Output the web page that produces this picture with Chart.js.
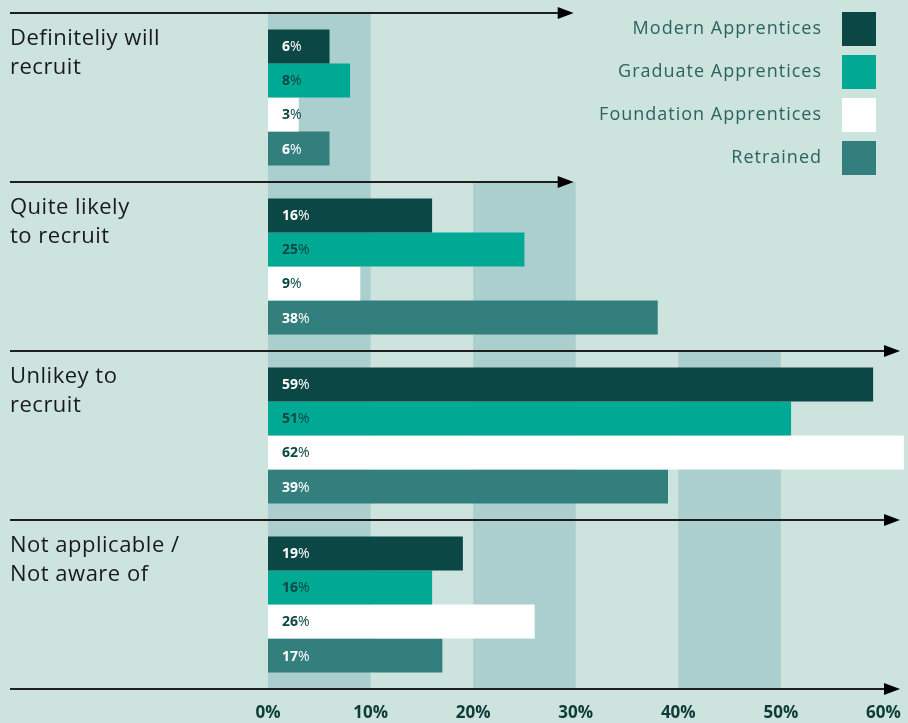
<!DOCTYPE html>
<html lang="en">
<head>
<meta charset="UTF-8">
<title>Recruitment intentions</title>
<script src="https://cdn.jsdelivr.net/npm/chart.js@4.4.1/dist/chart.umd.min.js"></script>
<style>
  body { margin: 0; background: #cde3dd; }
  #wrap { width: 908px; height: 723px; }
</style>
</head>
<body>
<div id="wrap"><canvas id="chart" width="908" height="723"></canvas></div>
<script>
// data
const categories = [
  ['Definiteliy will', 'recruit'],
  ['Quite likely', 'to recruit'],
  ['Unlikey to', 'recruit'],
  ['Not applicable /', 'Not aware of']
];
const seriesNames = ['Modern Apprentices', 'Graduate Apprentices', 'Foundation Apprentices', 'Retrained'];
const modern = [6, 16, 59, 19];
const graduate = [8, 25, 51, 16];
const foundation = [3, 9, 62, 26];
const retrained = [6, 38, 39, 17];
const xTicks = [0, 10, 20, 30, 40, 50, 60];
const bands = [[0, 10], [20, 30], [40, 50]];

const colors = ['#0b4745', '#00a994', '#ffffff', '#337f7d'];
const labelColors = ['#ffffff', '#0b4745', '#0b4745', '#ffffff'];
const FONT = "'Open Sans', sans-serif";

function boundaries(chart) {
  const y = chart.scales.y;
  const out = [chart.chartArea.top];
  for (let i = 0; i < categories.length - 1; i++) {
    out.push((y.getPixelForValue(i) + y.getPixelForValue(i + 1)) / 2);
  }
  out.push(chart.chartArea.bottom);
  return out;
}

function arrow(ctx, x0, x1, y) {
  ctx.save();
  ctx.strokeStyle = '#1e1e1e';
  ctx.fillStyle = '#000';
  ctx.lineWidth = 2;
  ctx.beginPath();
  ctx.moveTo(x0, y);
  ctx.lineTo(x1 - 12, y);
  ctx.stroke();
  ctx.beginPath();
  ctx.moveTo(x1, y);
  ctx.lineTo(x1 - 16, y - 6);
  ctx.lineTo(x1 - 16, y + 6);
  ctx.closePath();
  ctx.fill();
  ctx.restore();
}

const decor = {
  id: 'decor',
  beforeDraw(chart) {
    const ctx = chart.ctx;
    const x = chart.scales.x;
    const b = boundaries(chart);
    ctx.save();
    ctx.fillStyle = '#cde3dd';
    ctx.fillRect(0, 0, chart.width, chart.height);
    ctx.fillStyle = '#abcfce';
    bands.forEach((band, i) => {
      const l = x.getPixelForValue(band[0]);
      const r = x.getPixelForValue(band[1]);
      ctx.fillRect(l, b[i], r - l, b[b.length - 1] - b[i]);
    });
    ctx.restore();
  },
  afterDatasetsDraw(chart) {
    const ctx = chart.ctx;
    const x = chart.scales.x;
    const b = boundaries(chart);
    // arrows
    b.forEach((yy, i) => {
      const end = i < 2 ? x.getPixelForValue(30) - 2 : chart.chartArea.right - 8;
      arrow(ctx, 10, end, yy);
    });
    // category labels
    ctx.save();
    ctx.fillStyle = '#1a1a1a';
    ctx.font = '22px ' + FONT;
    ctx.letterSpacing = '0.5px';
    ctx.textBaseline = 'top';
    ctx.textAlign = 'left';
    const first = chart.getDatasetMeta(0);
    categories.forEach((lines, i) => {
      const bar = first.data[i];
      const top = bar.y - bar.height / 2 - 2;
      lines.forEach((t, k) => ctx.fillText(t, 10, top + k * 29));
    });
    ctx.restore();
    // value labels
    ctx.save();
    ctx.textBaseline = 'middle';
    chart.data.datasets.forEach((ds, di) => {
      const meta = chart.getDatasetMeta(di);
      meta.data.forEach((el, i) => {
        const num = String(ds.data[i]);
        const lx = el.base + 14;
        ctx.fillStyle = labelColors[di];
        ctx.font = 'bold 14px ' + FONT;
        ctx.fillText(num, lx, el.y + 1);
        const w = ctx.measureText(num).width;
        ctx.font = '14px ' + FONT;
        ctx.fillText('%', lx + w, el.y + 1);
      });
    });
    ctx.restore();
    // legend
    ctx.save();
    ctx.font = '18px ' + FONT;
    ctx.letterSpacing = '1px';
    ctx.textAlign = 'right';
    ctx.textBaseline = 'middle';
    seriesNames.forEach((name, i) => {
      const top = 12 + i * 43;
      ctx.fillStyle = colors[i];
      ctx.fillRect(842, top, 34, 34);
      ctx.fillStyle = '#2a6360';
      ctx.fillText(name, 822, top + 17);
    });
    ctx.restore();
  }
};

new Chart(document.getElementById('chart'), {
  type: 'bar',
  data: {
    labels: categories.map(c => c.join(' ')),
    datasets: [
      { label: seriesNames[0], data: modern, backgroundColor: colors[0] },
      { label: seriesNames[1], data: graduate, backgroundColor: colors[1] },
      { label: seriesNames[2], data: foundation, backgroundColor: colors[2] },
      { label: seriesNames[3], data: retrained, backgroundColor: colors[3] }
    ]
  },
  options: {
    indexAxis: 'y',
    responsive: false,
    animation: false,
    layout: { padding: { left: 268, top: 13, right: 0, bottom: 0 } },
    datasets: { bar: { categoryPercentage: 0.805, barPercentage: 1, borderWidth: 0 } },
    plugins: { legend: { display: false }, tooltip: { enabled: false } },
    scales: {
      y: { display: false },
      x: {
        min: 0,
        max: 62.4,
        grid: { display: false, drawTicks: false },
        border: { display: false },
        afterBuildTicks: s => { s.ticks = xTicks.map(v => ({ value: v })); },
        afterFit: s => { s.height = 34; s.paddingLeft = 0; s.paddingRight = 0; },
        ticks: {
          padding: 14,
          maxRotation: 0,
          color: '#0d3b39',
          font: { family: FONT, size: 17, weight: 'bold' },
          callback: v => v + '%'
        }
      }
    }
  },
  plugins: [decor]
});
</script>
</body>
</html>
